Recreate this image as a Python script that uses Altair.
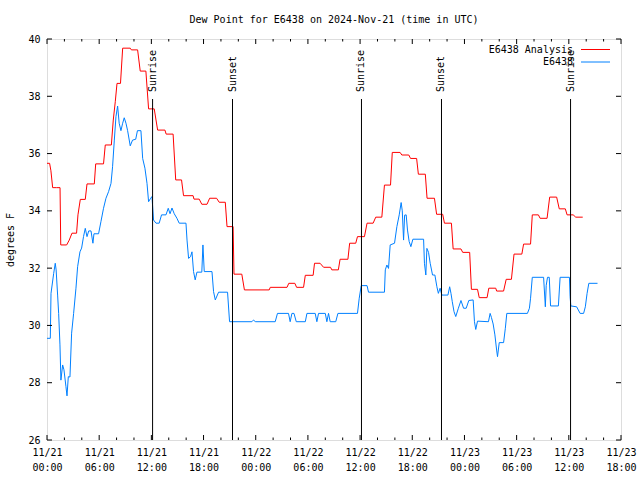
import altair as alt
import pandas as pd

# ---- data (hours since 2024-11-21 00:00 UTC) ----
analysis_h = [0, 0.3, 0.45, 0.65, 1.07, 1.5, 1.58, 2.26, 2.56, 2.87, 3.4, 3.56, 3.83, 4.4, 4.6, 5.44,
              5.6, 6.5, 6.7, 7.4, 7.62, 7.85, 8.05, 8.45, 8.7, 9.57, 9.7, 10.42, 10.72, 11.37, 11.68,
              12.33, 12.72, 13.56, 13.7, 14.5, 14.8, 15.47, 15.7, 16.8, 16.9, 17.5, 17.8, 18.4, 18.7,
              19.5, 19.8, 20.5, 20.7, 21.4, 21.5, 22.4, 22.7, 25.55, 25.67, 27.6, 27.8, 28.5, 28.7,
              29.5, 29.7, 30.6, 30.76, 31.4, 31.8, 32.6, 32.75, 33.5, 33.7, 34.6, 34.8, 35.5, 35.7,
              36.5, 36.8, 37.5, 37.8, 38.5, 38.8, 39.5, 39.7, 40.6, 40.8, 41.6, 41.8, 42.5, 42.7,
              43.5, 43.7, 44.55, 44.8, 45.5, 45.7, 46.5, 46.7, 47.6, 47.8, 48.6, 48.8, 49.5, 49.7,
              50.6, 50.8, 51.6, 51.7, 52.5, 52.8, 53.4, 53.7, 54.6, 54.8, 55.6, 55.8, 56.5, 56.7,
              57.5, 57.8, 58.6, 58.9, 59.6, 59.8, 60.5, 60.8, 61.6]
analysis_v = [35.66, 35.66, 35.40, 34.81, 34.81, 34.81, 32.81, 32.81, 32.98, 33.22, 33.22, 33.86, 34.40, 34.40, 34.94, 34.94,
              35.64, 35.64, 36.30, 36.30, 37.17, 37.81, 38.45, 38.45, 39.68, 39.68, 39.62, 39.62, 38.88, 38.88, 37.56,
              37.56, 36.82, 36.82, 36.68, 36.68, 35.08, 35.08, 34.53, 34.53, 34.41, 34.41, 34.23, 34.23, 34.44,
              34.44, 34.30, 34.30, 33.45, 33.45, 31.79, 31.79, 31.24, 31.24, 31.33, 31.33, 31.47, 31.47, 31.33,
              31.33, 31.75, 31.75, 32.17, 32.17, 32.03, 32.03, 31.94, 31.94, 32.31, 32.31, 32.87, 32.87, 33.10,
              33.10, 33.57, 33.57, 33.78, 33.78, 34.90, 34.90, 36.04, 36.04, 35.95, 35.95, 35.83, 35.83, 35.28,
              35.28, 34.44, 34.44, 33.88, 33.88, 33.57, 33.57, 32.67, 32.67, 32.55, 32.55, 31.26, 31.26, 30.97,
              30.97, 31.30, 31.30, 31.20, 31.20, 31.61, 31.61, 32.49, 32.49, 32.84, 32.84, 33.86, 33.86, 33.74,
              33.74, 34.48, 34.48, 34.07, 34.07, 33.86, 33.86, 33.78, 33.78]

station_h = [0, 0.38, 0.46, 0.77, 0.95, 1.05, 1.22, 1.34, 1.49, 1.6, 1.8, 1.95, 2.18, 2.3, 2.45, 2.64,
             2.83, 3.06, 3.33, 3.52, 3.79, 3.98, 4.2, 4.4, 4.6, 4.8, 5.06, 5.28, 5.4, 5.93, 6.2, 6.5,
             6.78, 7.08, 7.36, 7.54, 7.74, 7.93, 8.12, 8.3, 8.5, 8.7, 8.88, 9.08, 9.27, 9.57, 9.84,
             10.2, 10.4, 10.8, 11.0, 11.26, 11.5, 11.68, 11.88, 12.07, 12.25, 12.53, 12.9, 13.17, 13.68,
             13.94, 14.15, 14.37, 14.63, 14.94, 15.2, 15.98, 16.1, 16.28, 16.5, 16.67, 16.85, 17.04,
             17.24, 17.8, 17.93, 18.08, 18.97, 19.15, 19.35, 19.73, 20.76, 20.99, 23.56, 23.75, 23.95,
             26.24, 26.5, 27.77, 27.96, 28.16, 28.4, 28.66, 29.7, 29.89, 30.84, 31.03, 31.22, 32.0,
             32.18, 32.37, 32.56, 33.2, 33.45, 35.7, 35.9, 36.13, 36.8, 36.97, 38.8, 38.9, 39.08,
             39.27, 39.46, 39.96, 40.23, 40.5, 40.72, 40.85, 41.0, 41.12, 41.3, 41.45, 41.64, 41.84,
             42.07, 43.3, 43.4, 43.56, 43.68, 43.87, 44.06, 44.33, 44.6, 44.83, 45.0, 45.2, 45.4,
             46.1, 46.3, 46.45, 46.6, 46.8, 47.0, 47.3, 47.6, 47.9, 48.2, 48.5, 49.0, 49.15, 49.3,
             49.5, 50.76, 50.95, 51.1, 51.3, 51.5, 51.7, 51.8, 52.0, 52.5, 52.7, 52.87, 55.24, 55.47,
             55.6, 55.8, 57.1, 57.3, 57.4, 57.55, 57.75, 57.9, 58.8, 59.0, 60.07, 60.15, 60.23, 60.9,
             61.3, 61.7, 61.9, 62.1, 62.3, 63.3]
station_v = [29.55, 29.55, 31.12, 31.82, 32.17, 31.94, 31.06, 30.42, 29.32, 28.09, 28.62, 28.45, 27.86, 27.54, 28.21, 28.20,
             29.73, 30.42, 31.30, 32.05, 32.57, 32.70, 33.10, 33.39, 33.10, 33.30, 33.30, 32.87, 33.20, 33.20, 33.62, 34.09,
             34.44, 34.67, 34.96, 35.54, 36.47, 37.29, 37.66, 37.06, 36.80, 37.06, 37.25, 37.06, 36.80, 36.27, 36.47,
             36.50, 36.80, 36.80, 35.83, 35.49, 34.96, 34.32, 34.42, 34.50, 33.68, 33.57, 33.57, 33.86, 33.86,
             34.09, 33.90, 34.10, 33.90, 33.74, 33.57, 33.57, 32.98, 32.34, 32.40, 32.57, 31.88, 31.59,
             31.86, 31.86, 32.81, 31.88, 31.88, 31.18, 30.89, 31.16, 31.16, 30.13, 30.13, 30.19, 30.13,
             30.13, 30.42, 30.42, 30.13, 30.42, 30.42, 30.13, 30.13, 30.42, 30.42, 30.13, 30.42, 30.42,
             30.13, 30.42, 30.13, 30.13, 30.42, 30.42, 30.95, 31.39, 31.39, 31.16, 31.16, 31.94, 32.11,
             31.99, 32.81, 32.87, 33.45, 33.86, 34.29, 34.00, 32.98, 33.85, 33.86, 33.33, 32.93, 32.75,
             33.01, 33.01, 32.17, 31.76, 32.69, 32.55, 32.17, 31.76, 31.76, 31.35, 31.12, 31.30, 31.06,
             31.06, 31.35, 31.12, 30.83, 30.48, 30.31, 30.60, 30.87, 30.60, 30.60, 30.87, 30.89, 30.13, 29.86,
             30.15, 30.13, 30.42, 30.28, 30.05, 29.67, 29.14, 28.91, 29.40, 29.40, 29.90, 30.42, 30.42, 30.60,
             30.95, 31.68, 31.68, 30.65, 31.40, 31.68, 31.68, 30.68, 30.68, 31.68, 31.68, 31.00, 30.68, 30.65,
             30.42, 30.42, 30.65, 31.12, 31.47, 31.47]

series_names = ["E6438 Analysis", "E6438"]
series_colors = ["#ff0000", "#0080ff"]

event_labels = ["Sunrise", "Sunset", "Sunrise", "Sunset", "Sunrise"]
event_hours = [12.14, 21.33, 36.16, 45.36, 60.2]

x_tick_hours = list(range(0, 67, 6))
x_tick_dates = ["11/21", "11/21", "11/21", "11/21", "11/22", "11/22", "11/22", "11/22",
                "11/23", "11/23", "11/23", "11/23"]
x_tick_times = ["00:00", "06:00", "12:00", "18:00"] * 3
x_minor_hours = [h for h in range(0, 67, 2) if h % 6 != 0]
y_tick_values = list(range(26, 41, 2))

# ---- layout ----
W, H = 574, 401
FONT = "DejaVu Sans Mono"

df = pd.concat([
    pd.DataFrame({"h": analysis_h, "v": analysis_v, "s": series_names[0]}),
    pd.DataFrame({"h": station_h, "v": station_v, "s": series_names[1]}),
])

xscale = alt.Scale(domain=[0, 66], nice=False, zero=False)
yscale = alt.Scale(domain=[26, 40], nice=False, zero=False)

label_expr = "[" + ",".join(f"['{d}','{t}']" for d, t in zip(x_tick_dates, x_tick_times)) + "][round(datum.value / 6)]"

base_x = alt.X("h:Q", scale=xscale, axis=alt.Axis(
    values=x_tick_hours, labelExpr=label_expr, ticks=False, domain=False, grid=False, title=None,
    labelFont=FONT, labelFontSize=10, labelColor="black", labelPadding=7, labelLineHeight=15,
    labelBaseline="top", labelFlush=False, labelOverlap=False))
base_y = alt.Y("v:Q", scale=yscale, axis=alt.Axis(
    values=y_tick_values, ticks=False, domain=False, grid=False, title="degrees F",
    labelFont=FONT, labelFontSize=10, labelColor="black", labelPadding=7, labelFlush=False,
    titleFont=FONT, titleFontSize=10, titleFontWeight="normal", titleColor="black", titlePadding=12))

lines = alt.Chart(df).mark_line(strokeWidth=1, interpolate="linear").encode(
    x=base_x, y=base_y,
    color=alt.Color("s:N", scale=alt.Scale(domain=series_names, range=series_colors), legend=None),
    detail="s:N",
)

ev_df = pd.DataFrame({"h": event_hours, "label": event_labels})
ev_rules = alt.Chart(ev_df).mark_rule(color="black", strokeWidth=1).encode(
    x=alt.X("h:Q", scale=xscale), y=alt.value(60), y2=alt.value(H))
ev_text = alt.Chart(ev_df).mark_text(angle=270, align="left", baseline="middle", font=FONT,
                                     fontSize=10, color="black").encode(
    x=alt.X("h:Q", scale=xscale), y=alt.value(53), text="label:N")

# inward ticks (gnuplot style), bottom/top and left/right
maj_df = pd.DataFrame({"h": x_tick_hours})
min_df = pd.DataFrame({"h": x_minor_hours})
yt_df = pd.DataFrame({"v": y_tick_values})
tick_layers = []
for d, ln in ((maj_df, 5), (min_df, 2.5)):
    tick_layers.append(alt.Chart(d).mark_rule(color="black", strokeWidth=1).encode(
        x=alt.X("h:Q", scale=xscale), y=alt.value(H), y2=alt.value(H - ln)))
    tick_layers.append(alt.Chart(d).mark_rule(color="black", strokeWidth=1).encode(
        x=alt.X("h:Q", scale=xscale), y=alt.value(0), y2=alt.value(ln)))
tick_layers.append(alt.Chart(yt_df).mark_rule(color="black", strokeWidth=1).encode(
    y=alt.Y("v:Q", scale=yscale), x=alt.value(0), x2=alt.value(5)))
tick_layers.append(alt.Chart(yt_df).mark_rule(color="black", strokeWidth=1).encode(
    y=alt.Y("v:Q", scale=yscale), x=alt.value(W - 5), x2=alt.value(W)))

# key (top right, gnuplot style)
leg_layers = []
for i, (name, col) in enumerate(zip(series_names, series_colors)):
    ld = pd.DataFrame({"s": [name]})
    yy = 10.5 + 12.5 * i
    leg_layers.append(alt.Chart(ld).mark_text(align="right", baseline="middle", font=FONT,
                                              fontSize=10, color="black").encode(
        x=alt.value(526), y=alt.value(yy), text="s:N"))
    leg_layers.append(alt.Chart(ld).mark_rule(color=col, strokeWidth=1).encode(
        x=alt.value(534), x2=alt.value(563), y=alt.value(yy)))

chart = alt.layer(lines, ev_rules, ev_text, *tick_layers, *leg_layers).properties(
    width=W, height=H,
    title=alt.TitleParams("Dew Point for E6438 on 2024-Nov-21 (time in UTC)", font=FONT,
                          fontSize=10, fontWeight="normal", color="black", anchor="middle", offset=9),
    autosize=alt.AutoSizeParams(type="none"),
    padding={"left": 47, "top": 39, "right": 19, "bottom": 40},
).configure_view(stroke="black", strokeWidth=1).configure(background="white")

chart.save("out.html", embed_options={"renderer": "svg", "actions": False})
